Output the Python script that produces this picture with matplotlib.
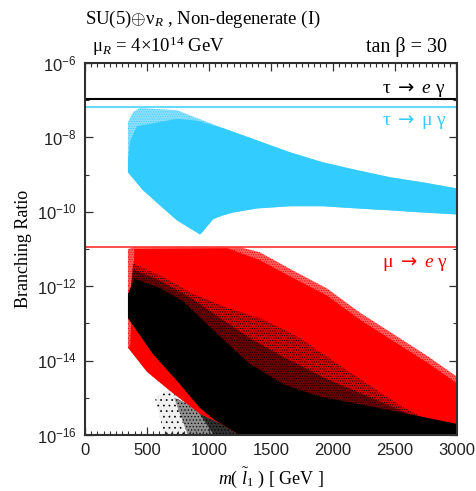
import matplotlib
matplotlib.use('Agg')
import matplotlib.pyplot as plt
from matplotlib.ticker import FixedLocator, FixedFormatter

# limites experimentales
bounds = [1.07e-7, 6.5e-8, 1.1e-11]

# azul: tau -> mu gamma (log10 BR)
cyan_x_low = [347, 468, 606, 743, 929, 960, 1034, 1110, 1195, 1389, 1655, 1921, 2196, 2462, 2729, 3000]
cyan_low = [-8.94, -9.42, -9.83, -10.23, -10.61, -10.5, -10.2, -10.1, -10.02, -9.91, -9.85, -9.85, -9.91, -9.96, -10.02, -10.07]
cyan_x_top = [347, 388, 444, 743, 904, 1114, 1389, 1655, 1921, 2196, 2462, 2729, 3000]
cyan_top = [-7.59, -7.32, -7.21, -7.27, -7.48, -7.75, -8.08, -8.40, -8.67, -8.88, -9.07, -9.21, -9.37]
cyan_x_core = [347, 365, 420, 743, 904, 1114, 1389, 1655, 1921, 2196, 2462, 2729, 3000]
cyan_core = [-8.6, -8.1, -7.7, -7.5, -7.55, -7.75, -8.08, -8.40, -8.67, -8.88, -9.07, -9.21, -9.37]

# rojo: mu -> e gamma
red_x_low = [347, 501, 686, 929, 1100, 1252, 3000]
red_low = [-13.65, -14.3, -14.81, -15.43, -15.7, -16, -16]
red_x_top = [347, 400, 1250, 1413, 1680, 1954, 2220, 2487, 2762, 2972, 3000]
red_top = [-11.0, -10.95, -10.95, -11.09, -11.58, -12.06, -12.71, -13.28, -13.87, -14.36, -14.42]
red_x_core = [365, 400, 1150, 1413, 1680, 1954, 2220, 2487, 2762, 3000]
red_core = [-13.6, -11.0, -10.98, -11.3, -11.78, -12.25, -12.9, -13.47, -14.05, -14.6]

# negro denso
black_x_low = [347, 549, 743, 929, 1050, 1252, 3000]
black_low = [-12.85, -13.82, -14.54, -15.27, -15.6, -16, -16]
black_x_top = [347, 400, 606, 791, 1066, 1332, 1599, 1873, 2487, 2972, 3000]
black_top = [-12.2, -11.8, -12.05, -12.4, -13.28, -14.09, -14.63, -14.95, -15.35, -15.68, -15.7]

# negro disperso sobre el rojo
sparse_x_top = [388, 606, 872, 1147, 1413, 1736, 2083, 2487, 2624]
sparse_top = [-11.39, -11.71, -12.2, -12.58, -12.85, -13.39, -14.19, -15.08, -15.35]
mid_x_top = [388, 606, 872, 1066, 1332, 1599, 1954, 2487, 2624]
mid_top = [-11.55, -11.85, -12.35, -12.8, -13.4, -13.9, -14.5, -15.25, -15.45]

# negro disperso debajo del rojo
low_x_top = [565, 686, 929, 1252]
low_top = [-15.0, -14.75, -15.3, -15.9]
low_x_bot = [640, 1252]
low2_x_top = [720, 929, 1252]
low2_top = [-15.0, -15.3, -15.9]
low2_x_bot = [830, 1252]
low3_x_top = [900, 1000, 1252]
low3_top = [-15.3, -15.45, -15.9]
low3_x_bot = [1040, 1252]

x_ticks = [0, 500, 1000, 1500, 2000, 2500, 3000]
x_minor = list(range(0, 3001, 50))
y_ticks = [1e-6, 1e-8, 1e-10, 1e-12, 1e-14, 1e-16]
y_minor = [1e-7, 1e-9, 1e-11, 1e-13, 1e-15]
y_labels = ['$\\mathsf{10^{-6}}$', '$\\mathsf{10^{-8}}$', '$\\mathsf{10^{-10}}$',
            '$\\mathsf{10^{-12}}$', '$\\mathsf{10^{-14}}$', '$\\mathsf{10^{-16}}$']


def poligono(ax, xt, yt, xl, yl, **kw):
    xs = list(xt) + list(xl)[::-1]
    ys = [10.0**v for v in yt] + [10.0**v for v in yl][::-1]
    return ax.fill(xs, ys, **kw)


plt.rcParams['mathtext.fontset'] = 'custom'
plt.rcParams['mathtext.rm'] = 'Liberation Serif'
plt.rcParams['mathtext.it'] = 'Liberation Serif:italic'
plt.rcParams['mathtext.sf'] = 'Liberation Sans'
plt.rcParams['mathtext.bf'] = 'DejaVu Sans'
plt.rcParams['hatch.linewidth'] = 0.5

fig = plt.figure(figsize=(4.76, 4.91), dpi=100)
ax = fig.add_axes([85 / 476, 1 - 435 / 491, 371.5 / 476, 372 / 491])
ax.set_xlim(0, 3000)
ax.set_ylim(1e-16, 1e-6)
ax.set_yscale('log')

cyan = '#33ccff'
red = '#ff0000'

poligono(ax, cyan_x_top, cyan_top, cyan_x_low, cyan_low, facecolor='#8fdfff', edgecolor=cyan,
         hatch='.......', lw=0, zorder=2)
poligono(ax, cyan_x_core, cyan_core, cyan_x_low, cyan_low, color=cyan, lw=0, zorder=2)

poligono(ax, low_x_top, low_top, low_x_bot, [-16, -16], facecolor='#f0f0f0', edgecolor='black',
         hatch='...', lw=0, zorder=1)
poligono(ax, low2_x_top, low2_top, low2_x_bot, [-16, -16], facecolor='#909090', edgecolor='black',
         hatch='.....', lw=0, zorder=1)
poligono(ax, low3_x_top, low3_top, low3_x_bot, [-16, -16], facecolor='#303030', edgecolor='black',
         hatch='.....', lw=0, zorder=1)

poligono(ax, red_x_top, red_top, red_x_low, red_low, facecolor='#ff6060', edgecolor=red,
         hatch='.......', lw=0, zorder=2)
poligono(ax, red_x_core, red_core, red_x_low, red_low, color=red, lw=0, zorder=2)

poligono(ax, sparse_x_top, sparse_top, black_x_low, black_low, facecolor='#d80000', edgecolor='black',
         hatch='.......', lw=0, zorder=3)
poligono(ax, mid_x_top, mid_top, black_x_low, black_low, facecolor='#700000', edgecolor='black',
         hatch='.......', lw=0, zorder=3)
poligono(ax, black_x_top, black_top, black_x_low, black_low, color='black', lw=0, zorder=4)

ax.axhline(bounds[0], color='black', lw=1.5, zorder=5)
ax.axhline(bounds[1], color='#66d9ff', lw=1.5, zorder=5)
ax.axhline(bounds[2], color='#ff3030', lw=1.2, zorder=5)

ax.xaxis.set_major_locator(FixedLocator(x_ticks))
ax.xaxis.set_minor_locator(FixedLocator(x_minor))
ax.yaxis.set_major_locator(FixedLocator(y_ticks))
ax.yaxis.set_major_formatter(FixedFormatter(y_labels))
ax.yaxis.set_minor_locator(FixedLocator(y_minor))
ax.yaxis.set_minor_formatter(FixedFormatter([''] * 5))
ax.tick_params(which='major', direction='in', top=True, right=True, length=6, width=0.9,
               labelsize=12, pad=6, color='#303030', labelcolor='#222222')
ax.tick_params(which='minor', direction='in', top=True, right=True, length=3, width=0.8, color='#303030')
for lab in ax.get_xticklabels():
    lab.set_family('Liberation Sans')
for s in ax.spines.values():
    s.set_linewidth(1.5)
    s.set_color('#303030')
    s.set_zorder(10)

serif = 'Liberation Serif'
ax.set_xlabel('$m$( $\\tilde{l}_1$ ) [ GeV ]', family=serif, fontsize=13, labelpad=5)
ax.set_ylabel('Branching Ratio', family=serif, fontsize=13, labelpad=3)

fig.text(85 / 476, 1 - 24 / 491, 'SU(5)$\\oplus$\u03bd$_R$ , Non-degenerate (I)', family=serif, fontsize=13.5)
fig.text(92 / 476, 1 - 52 / 491, '\u03bc$_R$ = 4\u00d710$^{14}$ GeV', family=serif, fontsize=13.5)
fig.text(447 / 476, 1 - 52 / 491, 'tan \u03b2 = 30', family=serif, fontsize=14.5, ha='right')

fig.text(382 / 476, 1 - 93 / 491, '\u03c4 $\\mathbf{\\rightarrow}$ $e$ \u03b3', family=serif, fontsize=14, color='black')
fig.text(382 / 476, 1 - 125 / 491, '\u03c4 $\\mathbf{\\rightarrow}$ \u03bc \u03b3', family=serif, fontsize=14, color=cyan)
fig.text(382 / 476, 1 - 267 / 491, '\u03bc $\\mathbf{\\rightarrow}$ $e$ \u03b3', family=serif, fontsize=14, color=red)

fig.savefig('out.png', dpi=100)
